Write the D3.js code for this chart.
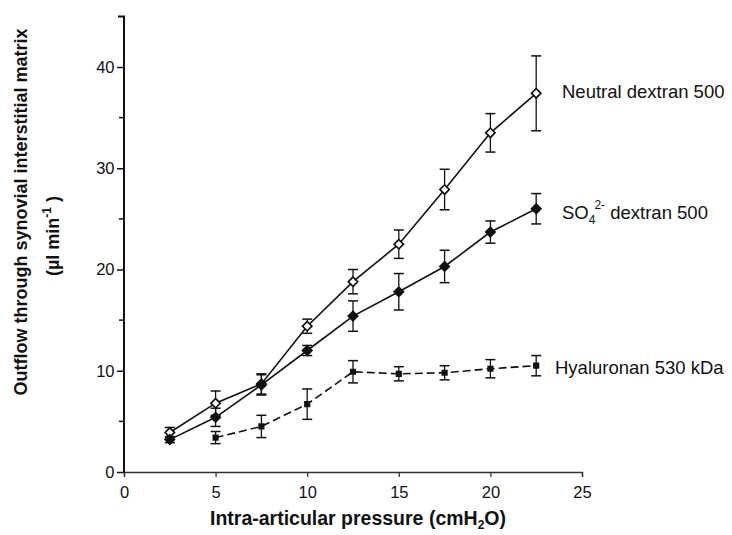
<!DOCTYPE html>
<html><head><meta charset="utf-8">
<script src="https://cdn.jsdelivr.net/npm/d3@7"></script>
<style>body{margin:0;background:#fff}svg{display:block}text{font-family:"Liberation Sans",Arial,sans-serif;fill:#111}</style>
</head><body><svg id="c" width="732" height="535"></svg>
<script>
const pressure = [2.5, 5, 7.5, 10, 12.5, 15, 17.5, 20, 22.5];
const neutralMean = [3.9, 6.8, 8.7, 14.4, 18.8, 22.5, 27.9, 33.5, 37.4];
const neutralErr  = [0.5, 1.2, 1.0, 0.7, 1.2, 1.4, 2.0, 1.9, 3.7];
const sulfMean = [3.2, 5.4, 8.6, 12.0, 15.4, 17.8, 20.3, 23.7, 26.0];
const sulfErr  = [0.3, 0.9, 1.0, 0.5, 1.5, 1.8, 1.6, 1.1, 1.5];
const hyaPressure = [5, 7.5, 10, 12.5, 15, 17.5, 20, 22.5];
const hyaMean = [3.4, 4.5, 6.7, 9.9, 9.7, 9.8, 10.2, 10.5];
const hyaErr  = [0.6, 1.1, 1.5, 1.1, 0.7, 0.7, 0.9, 1.0];
const xTicks = [0, 5, 10, 15, 20, 25];
const yTicks = [0, 10, 20, 30, 40];
const yMinor = [5, 15, 25, 35];

const svg = d3.select("#c");
const x = d3.scaleLinear().domain([0, 25]).range([124, 582]);
const y = d3.scaleLinear().domain([0, 45]).range([472, 16.4]);

// axes
const xa = svg.append("g").attr("transform", "translate(0,472)")
  .call(d3.axisBottom(x).tickValues(xTicks).tickSize(5).tickPadding(9));
xa.select(".domain").attr("stroke", "#333").attr("stroke-width", 1.3);
xa.selectAll(".tick line").attr("stroke", "#333").attr("stroke-width", 1.3);
xa.selectAll("text").style("font-size", "16.5px");

const ya = svg.append("g").attr("transform", "translate(124,0)")
  .call(d3.axisLeft(y).tickValues(yTicks).tickSize(7).tickPadding(2.5));
ya.select(".domain").attr("stroke", "#111").attr("stroke-width", 2).attr("d", `M-6,${y(45)}H0V${y(0)}`);
ya.selectAll(".tick line").attr("stroke", "#111").attr("stroke-width", 1.5);
ya.selectAll("text").style("font-size", "16.5px");
svg.append("g").selectAll("line").data(yMinor).join("line")
  .attr("x1", 119).attr("x2", 124).attr("y1", d => y(d)).attr("y2", d => y(d))
  .attr("stroke", "#111").attr("stroke-width", 1.5);

// titles
const xt = svg.append("text").attr("x", 358).attr("y", 525).attr("text-anchor", "middle")
  .style("font-size", "19.5px").style("font-weight", "bold");
xt.append("tspan").text("Intra-articular pressure (cmH");
xt.append("tspan").text("2").attr("dy", 4).style("font-size", "12px");
xt.append("tspan").text("O)").attr("dy", -4);

svg.append("text").attr("transform", "translate(27,212) rotate(-90)")
  .attr("text-anchor", "middle")
  .style("font-size", "18px").style("font-weight", "bold")
  .text("Outflow through synovial interstitial matrix");
const yt2 = svg.append("text").attr("transform", "translate(59,236) rotate(-90)")
  .attr("text-anchor", "middle")
  .style("font-size", "18px").style("font-weight", "bold");
yt2.append("tspan").text("(\u00b5l min");
yt2.append("tspan").text("-1").attr("dy", -8).style("font-size", "12px");
yt2.append("tspan").text(" )").attr("dy", 8);

function series(xs, mean, err, opts) {
  const g = svg.append("g");
  const pts = xs.map((v, i) => ({x: v, m: mean[i], e: err[i]}));
  g.append("path").datum(pts)
    .attr("d", d3.line().x(d => x(d.x)).y(d => y(d.m)))
    .attr("fill", "none").attr("stroke", "#111").attr("stroke-width", 1.6)
    .attr("stroke-dasharray", opts.dash || null);
  const eb = g.selectAll("g.eb").data(pts).join("g");
  eb.append("line").attr("x1", d => x(d.x)).attr("x2", d => x(d.x))
    .attr("y1", d => y(d.m + d.e)).attr("y2", d => y(d.m - d.e))
    .attr("stroke", "#111").attr("stroke-width", 1.3);
  [1, -1].forEach(s => eb.append("line")
    .attr("x1", d => x(d.x) - 5).attr("x2", d => x(d.x) + 5)
    .attr("y1", d => y(d.m + s * d.e)).attr("y2", d => y(d.m + s * d.e))
    .attr("stroke", "#111").attr("stroke-width", 1.5));
  g.selectAll("path.mk").data(pts).join("path")
    .attr("transform", d => `translate(${x(d.x)},${y(d.m)}) rotate(${opts.rot || 0})`)
    .attr("d", d3.symbol().type(opts.sym).size(opts.size))
    .attr("fill", opts.fill).attr("stroke", "#111").attr("stroke-width", 1.7);
}
series(pressure, neutralMean, neutralErr, {sym: d3.symbolSquare, size: 44, rot: 45, fill: "#fff"});
series(pressure, sulfMean, sulfErr, {sym: d3.symbolSquare, size: 44, rot: 45, fill: "#111"});
series(hyaPressure, hyaMean, hyaErr, {sym: d3.symbolSquare, size: 20, fill: "#111", dash: "8,4"});

// labels
svg.append("text").attr("x", 562).attr("y", 98).style("font-size", "18.5px").text("Neutral dextran 500");
const sl = svg.append("text").attr("x", 562).attr("y", 219).style("font-size", "18.5px");
sl.append("tspan").text("SO");
sl.append("tspan").text("4").attr("dy", 5).style("font-size", "12px");
sl.append("tspan").text("2-").attr("dx", -1).attr("dy", -15).style("font-size", "12px");
sl.append("tspan").text(" dextran 500").attr("dy", 10);
svg.append("text").attr("x", 555).attr("y", 374).style("font-size", "18.5px").text("Hyaluronan 530 kDa");
</script></body></html>
